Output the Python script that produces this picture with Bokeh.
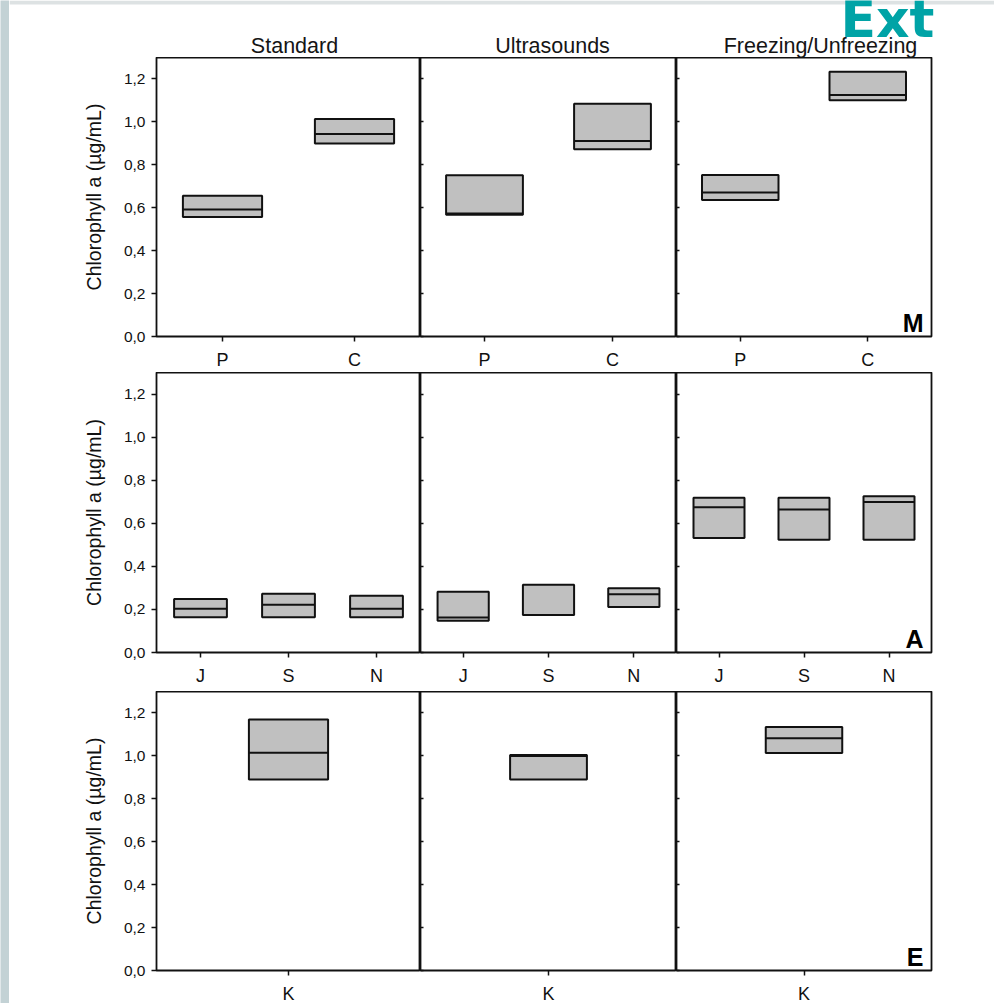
from bokeh.plotting import figure
from bokeh.layouts import column, row
from bokeh.models import (Range1d, FactorRange, FixedTicker, CustomJSTickFormatter,
                          Label, ColumnDataSource)
from bokeh.embed import file_html
from bokeh.resources import INLINE

# ---------------- data ----------------
treatments = ["Standard", "Ultrasounds", "Freezing/Unfreezing"]
m_cats = ["P", "C"]
a_cats = ["J", "S", "N"]
e_cats = ["K"]
row_letters = ["M", "A", "E"]
y_ticks = [0.0, 0.2, 0.4, 0.6, 0.8, 1.0, 1.2]
y_label = "Chlorophyll a (µg/mL)"
corner_text = "Ext"

# M row (per treatment, per category): lower edge, median, upper edge
m_q1 = [[0.557, 0.899], [0.567, 0.872], [0.636, 1.101]]
m_med = [[0.592, 0.943], [0.573, 0.911], [0.671, 1.125]]
m_q3 = [[0.656, 1.013], [0.751, 1.084], [0.752, 1.234]]

# A row
a_q1 = [[0.164, 0.164, 0.164], [0.147, 0.174, 0.211], [0.532, 0.524, 0.524]]
a_med = [[0.203, 0.222, 0.203], [0.163, 0.174, 0.271], [0.674, 0.664, 0.699]]
a_q3 = [[0.248, 0.273, 0.264], [0.282, 0.315, 0.298], [0.718, 0.718, 0.726]]

# E row
e_q1 = [[0.890], [0.890], [1.013]]
e_med = [[1.015], [1.000], [1.082]]
e_q3 = [[1.170], [1.004], [1.135]]

# ---------------- layout / style ----------------
FONT = "Liberation Sans"
STRIP_W = 9
HEADER_H = 57
FRAME_W = [264, 256, 255]
FRAME_H = [279, 280, 279]
BOTTOM = [36, 39, 33]
LEFT0 = 147
RIGHT2 = 63
BOX_W = [0.6, 0.6, 0.3]
TITLE_X = [294, 552, 820]
TITLE_SIZE = 21.5
EXT_SIZE = 52
LETTER_SIZE = 25
BASE_SHIFT = 0.32      # empirical drop of the alphabetic baseline (in em), Liberation
BASE_SHIFT_DV = 0.39   # same for DejaVu
BOX_FILL = "#c0c0c0"
INK = "#111111"
TOTAL_W = 994
TOTAL_H = HEADER_H + sum(FRAME_H) + sum(BOTTOM)

rows_data = [
    (m_cats, m_q1, m_med, m_q3),
    (a_cats, a_q1, a_med, a_q3),
    (e_cats, e_q1, e_med, e_q3),
]


def bare_figure(w, h, xr, yr, bg="white"):
    p = figure(frame_width=w, frame_height=h, x_range=xr, y_range=yr,
               x_axis_location=None, y_axis_location=None,
               output_backend="svg", toolbar_location=None,
               min_border=0, min_border_left=0, min_border_right=0,
               min_border_top=0, min_border_bottom=0,
               background_fill_color=bg, border_fill_color=bg)
    p.outline_line_color = None
    p.xgrid.visible = False
    p.ygrid.visible = False
    return p


# decorative left strip of the slide
strip = bare_figure(STRIP_W, TOTAL_H, Range1d(0, 1), Range1d(0, 1), bg="#c3d2d5")

# header: panel titles + cut slide title (y measured from the top)
header = bare_figure(TOTAL_W - STRIP_W, HEADER_H, Range1d(STRIP_W, TOTAL_W), Range1d(HEADER_H, 0))
header.quad(left=[STRIP_W], right=[TOTAL_W], top=[0], bottom=[4],
            fill_color="#dde2e3", line_color=None)
header.add_layout(Label(x=840, y=39 - BASE_SHIFT_DV * EXT_SIZE, text=corner_text, text_align="left",
                        text_baseline="alphabetic", text_font="DejaVu Sans",
                        text_font_size=f"{EXT_SIZE}px", text_font_style="bold",
                        text_color="#00a3a6"))
for t, tx in zip(treatments, TITLE_X):
    header.add_layout(Label(x=tx, y=52 - BASE_SHIFT * TITLE_SIZE, text=t, text_align="center",
                            text_baseline="alphabetic", text_font=FONT,
                            text_font_size=f"{TITLE_SIZE}px", text_color="#151515"))


def make_panel(r, c):
    cats, q1s, meds, q3s = rows_data[r]
    p = figure(x_range=FactorRange(factors=cats), y_range=Range1d(0, 1.3),
               frame_width=FRAME_W[c], frame_height=FRAME_H[r],
               output_backend="svg", toolbar_location=None,
               min_border_left=LEFT0 if c == 0 else 0,
               min_border_right=RIGHT2 if c == 2 else 0,
               min_border_top=0, min_border_bottom=BOTTOM[r])
    p.xgrid.visible = False
    p.ygrid.visible = False
    p.outline_line_color = INK
    p.outline_line_width = 1.8
    p.outline_line_alpha = 1.0

    src = ColumnDataSource(dict(x=cats, q1=q1s[c], med=meds[c], q3=q3s[c]))
    p.vbar(x="x", bottom="q1", top="q3", width=BOX_W[r], source=src,
           fill_color=BOX_FILL, line_color=INK, line_width=2)
    p.vbar(x="x", bottom="med", top="med", width=BOX_W[r], source=src,
           fill_color=None, line_color=INK, line_width=2)

    # x axis
    xa = p.xaxis[0]
    xa.axis_line_color = None
    xa.major_tick_out = 5
    xa.major_tick_in = 0
    xa.major_tick_line_color = INK
    xa.major_tick_line_width = 1.5
    xa.major_label_text_font = FONT
    xa.major_label_text_font_size = "18px"
    xa.major_label_text_color = "#111111"
    xa.major_label_standoff = 8

    # y axis
    ya = p.yaxis[0]
    ya.ticker = FixedTicker(ticks=y_ticks)
    ya.axis_line_color = None
    ya.major_tick_line_color = INK
    ya.major_tick_line_width = 1.5
    ya.minor_tick_line_color = None
    if c == 0:
        ya.formatter = CustomJSTickFormatter(code="return tick.toFixed(1).replace('.', ',');")
        ya.major_tick_out = 5
        ya.major_tick_in = 0
        ya.major_label_text_font = FONT
        ya.major_label_text_font_size = "15.5px"
        ya.major_label_text_color = "#111111"
        ya.major_label_standoff = 6
        ya.axis_label = y_label
        ya.axis_label_text_font = FONT
        ya.axis_label_text_font_size = "19.5px"
        ya.axis_label_text_font_style = "normal"
        ya.axis_label_text_color = "#111111"
        ya.axis_label_standoff = 16
    else:
        ya.formatter = CustomJSTickFormatter(code="return '';")
        ya.major_tick_out = 0
        ya.major_tick_in = 3
        ya.major_label_text_font_size = "0px"
        ya.major_label_standoff = 0

    if c == 2:
        p.add_layout(Label(x=len(cats), y=0, x_offset=-8,
                           y_offset=6 + BASE_SHIFT * LETTER_SIZE,
                           text=row_letters[r], text_align="right",
                           text_baseline="alphabetic", text_font=FONT,
                           text_font_size=f"{LETTER_SIZE}px", text_font_style="bold",
                           text_color="#000000"))
    return p


grid_rows = [header]
for r in range(3):
    grid_rows.append(row([make_panel(r, c) for c in range(3)], spacing=0))
layout = row([strip, column(grid_rows, spacing=0)], spacing=0)

open("out.html", "w").write(file_html(layout, INLINE))
